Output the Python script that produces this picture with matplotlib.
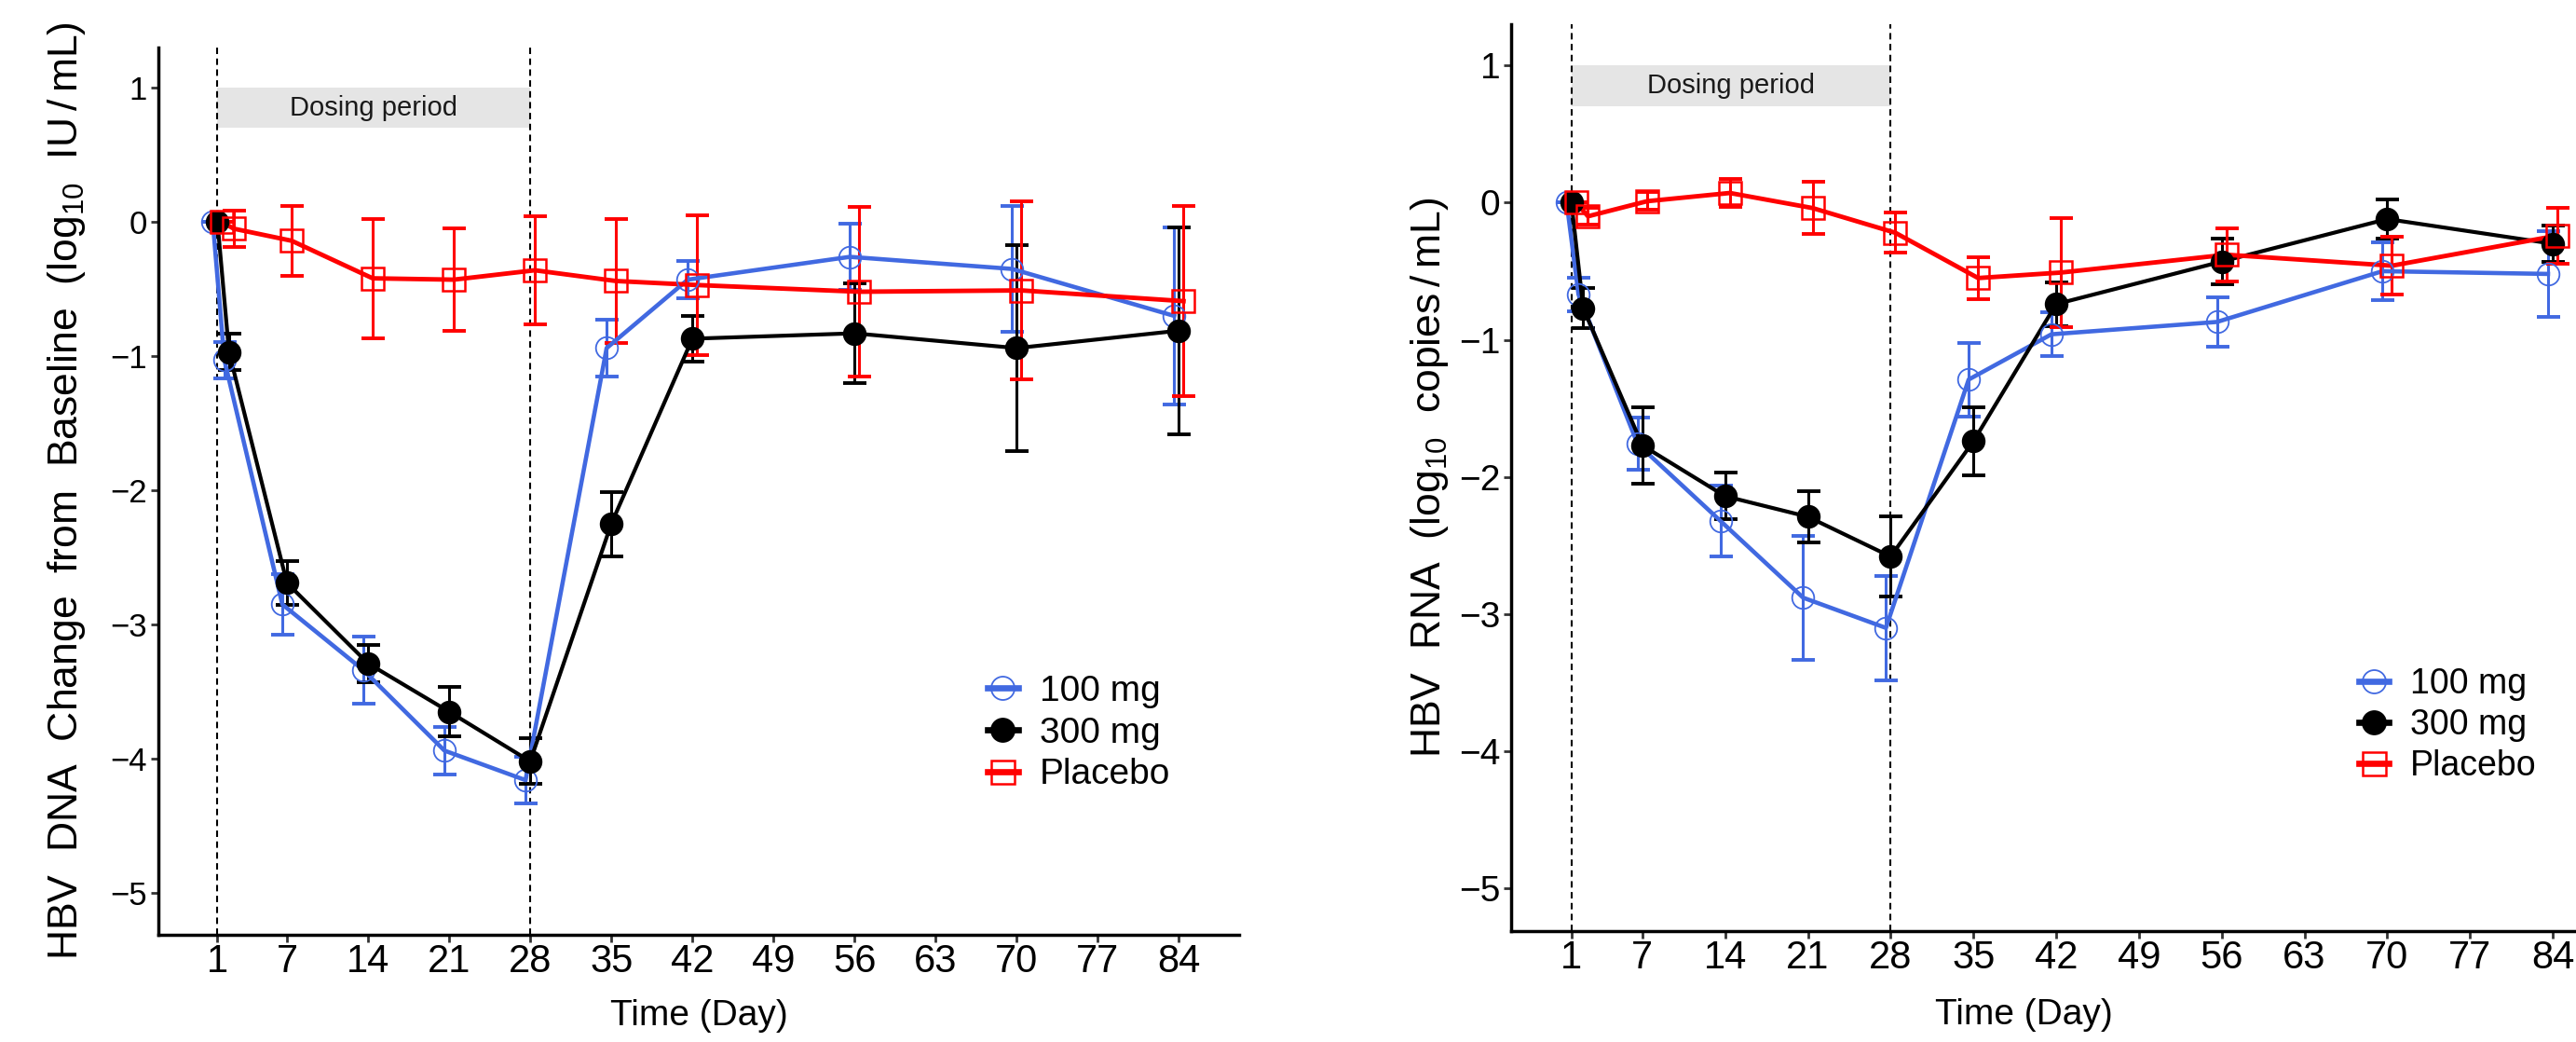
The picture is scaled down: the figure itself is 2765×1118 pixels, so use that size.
import numpy as np
import matplotlib.pyplot as plt
from matplotlib.lines import Line2D

plt.rcParams['font.family'] = ['Liberation Sans', 'DejaVu Sans']
plt.rcParams['mathtext.default'] = 'regular'

# ---- data (change from baseline, mean and SE) ----
days = [1, 2, 7, 14, 21, 28, 35, 42, 56, 70, 84]
day_ticks = [1, 7, 14, 21, 28, 35, 42, 49, 56, 63, 70, 77, 84]
groups = ["100 mg", "300 mg", "Placebo"]

dna_100 = [0, -1.03, -2.85, -3.34, -3.94, -4.16, -0.94, -0.43, -0.26, -0.35, -0.70]
dna_100_se = [0, 0.135, 0.225, 0.25, 0.175, 0.175, 0.21, 0.14, 0.245, 0.47, 0.66]
dna_300 = [0, -0.97, -2.69, -3.29, -3.65, -4.02, -2.25, -0.87, -0.83, -0.94, -0.81]
dna_300_se = [0, 0.135, 0.165, 0.14, 0.185, 0.17, 0.24, 0.17, 0.37, 0.765, 0.77]
dna_pbo = [0, -0.05, -0.14, -0.42, -0.43, -0.36, -0.44, -0.47, -0.52, -0.51, -0.59]
dna_pbo_se = [0, 0.135, 0.26, 0.445, 0.38, 0.40, 0.46, 0.52, 0.63, 0.665, 0.71]

rna_100 = [0, -0.67, -1.76, -2.32, -2.88, -3.10, -1.29, -0.96, -0.87, -0.50, -0.52]
rna_100_se = [0, 0.125, 0.19, 0.26, 0.45, 0.38, 0.27, 0.16, 0.18, 0.21, 0.31]
rna_300 = [0, -0.77, -1.77, -2.14, -2.29, -2.58, -1.74, -0.74, -0.43, -0.12, -0.30]
rna_300_se = [0, 0.145, 0.28, 0.17, 0.185, 0.29, 0.245, 0.16, 0.165, 0.14, 0.135]
rna_pbo = [0, -0.10, 0.01, 0.07, -0.04, -0.22, -0.55, -0.51, -0.38, -0.46, -0.24]
rna_pbo_se = [0, 0.06, 0.065, 0.10, 0.19, 0.145, 0.155, 0.40, 0.195, 0.21, 0.205]

dosing_start, dosing_end = 1, 28

# ---- styles ----
colors = ["#4169E1", "black", "#FF0000"]
markers = ["o", "o", "s"]
faces = ["none", "black", "none"]
edge_w = [1.3, 1.3, 1.8]
line_w = [3.3, 3.0, 3.5]
dodge = [-0.4, 0.0, 0.4]

W, H = 2765, 1118
fig = plt.figure(figsize=(W / 100, H / 100), dpi=100)


def px_axes(left, top, right, bottom):
    return fig.add_axes([left / W, 1 - bottom / H, (right - left) / W, (bottom - top) / H])


def draw_panel(ax, means, ses, ylabel, ytick_size, ylab_pos, xlab_x, leg_xy, leg_size):
    ax.set_xlim(-4.1, 89.2)
    ax.set_ylim(-5.31, 1.30)

    ax.fill_between([dosing_start, dosing_end], 0.7, 1.0, color="#E5E5E5", lw=0, zorder=1)
    ax.text((dosing_start + dosing_end) / 2, 0.85, "Dosing period", ha="center", va="center",
            fontsize=21, color="#1a1a1a", zorder=2)
    for xv in (dosing_start, dosing_end):
        ax.axvline(xv, color="black", lw=1.5, dashes=(3.3, 2.3), zorder=2)

    x = np.array(days, dtype=float)
    for i in range(3):
        ax.errorbar(x + dodge[i], means[i], yerr=ses[i], fmt="none", ecolor=colors[i],
                    elinewidth=2.2, capsize=9, capthick=2.8, zorder=3 + i * 0.1)
    for i in range(3):
        ax.plot(x + dodge[i], means[i], color=colors[i], lw=line_w[i], zorder=4 + i * 0.1)
    for i in range(3):
        ax.plot(x + dodge[i], means[i], ls="none", marker=markers[i], ms=17,
                mfc=faces[i], mec=colors[i], mew=edge_w[i], zorder=5 + i * 0.1)

    ax.spines["top"].set_visible(False)
    ax.spines["right"].set_visible(False)
    for s in ("left", "bottom"):
        ax.spines[s].set_linewidth(2.5)
    ax.set_xticks(day_ticks)
    ax.set_yticks(range(-5, 2))
    ax.set_yticklabels([str(v).replace("-", "\u2212") for v in range(-5, 2)])
    ax.tick_params(axis="both", length=5.5, width=2, color="#333333")
    ax.tick_params(axis="x", labelsize=30, pad=1)
    ax.tick_params(axis="y", labelsize=ytick_size, pad=3)

    ax.set_xlabel("Time (Day)", fontsize=28)
    ax.xaxis.label.set_va("center")
    ax.xaxis.set_label_coords(xlab_x, -0.092)
    ax.set_ylabel(ylabel, fontsize=32)
    ax.yaxis.label.set_va("center")
    ax.yaxis.set_label_coords(ylab_pos[0], ylab_pos[1])

    handles = [Line2D([], [], color=colors[i], lw=4.8, marker=markers[i], ms=18,
                      mfc=faces[i], mec=colors[i], mew=edge_w[i]) for i in range(3)]
    ax.legend(handles, groups, loc="center left", bbox_to_anchor=leg_xy, frameon=False,
              fontsize=leg_size, handlelength=0.85, handletextpad=0.6, labelspacing=0.22,
              borderpad=0, borderaxespad=0)


ax1 = px_axes(170, 51, 1330, 1002.6)
draw_panel(ax1, [dna_100, dna_300, dna_pbo], [dna_100_se, dna_300_se, dna_pbo_se],
           r"HBV  DNA  Change  from  Baseline  (log$_{10}$  IU$\,$/$\,$mL)",
           25, (-0.085, 0.5), 0.5, (0.767, 0.227), 28)

ax2 = px_axes(1622, 26, 1622 + 1184, 999)
draw_panel(ax2, [rna_100, rna_300, rna_pbo], [rna_100_se, rna_300_se, rna_pbo_se],
           r"HBV  RNA  (log$_{10}$  copies$\,$/$\,$mL)",
           28, (-0.074, 0.5), 0.465, (0.769, 0.227), 27)

fig.savefig("out.png", dpi=100)
